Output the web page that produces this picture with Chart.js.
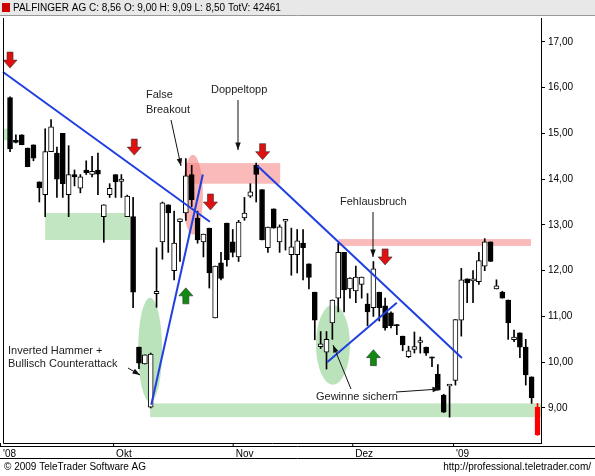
<!DOCTYPE html>
<html>
<head>
<script src="https://cdn.jsdelivr.net/npm/chart.js"></script>
<style>body{margin:0;background:#fff}</style>
</head>
<body>
<canvas id="c" width="595" height="476"></canvas>
<script>
// daily candles, Sep 2008 - Jan 2009
var opens  = [15.78,14.85,14.97,14.68,14.75,13.94,13.66,14.6,14.57,15.0,13.66,14.1,13.8,14.2,14.1,14.2,13.18,13.66,14.1,13.95,13.18,13.18,10.33,9.96,9.02,11.5,12.63,13.44,12.0,13.07,13.26,14.1,13.15,12.63,12.93,10.97,12.17,13.04,12.63,12.3,13.15,13.63,14.3,13.77,12.5,13.35,12.63,
              13.1,12.35,12.35,12.6,12.15,11.53,10.36,10.22,10.86,11.4,12.4,11.6,11.56,11.7,11.27,11.19,11.53,11.23,11.08,10.82,10.57,10.12,10.3,10.45,10.33,10.11,9.74,9.28,9.5,9.6,10.92,11.82,11.8,11.76,12.1,12.63,11.6,11.53,11.36,10.49,10.64,10.33,9.68,9.02];
var closes = [14.66,14.8,14.75,14.27,14.46,13.81,14.6,15.14,14.0,13.9,14.1,14.05,14.05,14.14,14.17,14.11,13.44,13.8,13.94,14.0,13.63,11.53,9.98,10.16,10.18,11.55,13.48,13.26,12.6,13.13,14.07,13.55,12.67,12.8,11.95,12.1,11.83,12.24,12.4,13.06,13.26,13.72,14.1,12.67,12.95,12.93,12.96,
              13.1,12.52,12.65,12.5,11.85,10.92,10.38,10.5,11.36,12.4,11.58,11.84,11.86,11.86,11.1,12.04,11.19,10.75,10.8,10.8,10.38,10.25,10.32,10.45,10.2,10.1,9.39,8.91,9.5,10.93,11.8,11.73,11.8,12.22,12.63,12.2,11.67,11.4,10.86,10.55,10.33,9.72,9.22,8.41];
var highs  = [15.8,14.97,14.97,14.68,14.75,13.94,15.1,15.3,14.7,15.0,14.73,14.2,14.1,14.4,14.5,14.57,13.44,13.9,14.1,14.1,13.65,13.6,10.33,10.16,10.2,12.5,13.5,13.44,13.3,13.13,14.45,14.3,13.3,12.8,12.93,12.1,12.4,13.04,12.9,13.1,13.6,13.9,14.35,13.77,12.95,13.35,13.0,
              13.1,12.93,12.9,12.9,12.15,11.53,10.67,10.67,11.36,12.6,12.4,11.85,12.1,11.86,11.5,12.2,11.53,11.4,11.1,10.83,10.57,10.35,10.66,10.55,10.33,10.11,9.95,9.3,9.5,10.93,12.05,11.82,12.0,12.4,12.7,12.63,11.8,11.55,11.36,10.7,10.64,10.5,9.68,9.1];
var lows   = [14.6,14.79,14.75,14.27,14.4,13.5,13.18,14.6,13.6,13.6,13.18,13.85,13.7,14.1,14.05,13.66,12.62,13.6,13.6,13.6,13.18,11.19,9.86,9.96,9.0,11.2,12.25,12.4,11.8,12.2,13.1,13.4,12.6,12.3,11.62,10.97,11.8,12.1,12.3,12.2,13.1,13.6,13.5,12.67,12.4,12.93,12.4,
              12.45,11.9,11.95,11.8,11.6,10.49,10.3,9.85,10.5,11.1,11.1,11.4,11.3,11.4,10.8,11.0,10.9,10.7,10.75,10.6,10.25,10.1,10.2,10.2,10.15,9.9,9.39,8.9,8.8,9.5,10.57,11.3,11.3,11.7,12.0,12.2,11.6,11.4,10.5,10.45,10.1,9.5,9.1,8.4];
var monthLabels = ["'08","Okt","Nov","Dez","'09"];
var monthIdx = [-1.2,18.1,38.5,58.9,76.1];
var yTicks = [9,10,11,12,13,14,15,16,17];

var n = opens.length;
var wicks = [], bodies = [], bodyColors = [], bodyBorders = [];
for (var i = 0; i < n; i++) {
  wicks.push({x: i, y: [lows[i], highs[i]]});
  var b = [opens[i], closes[i]];
  if (Math.abs(b[0] - b[1]) < 0.03) b = [b[0] - 0.02, b[1] + 0.02];
  bodies.push({x: i, y: b});
  var last = i === n - 1;
  bodyColors.push(last ? '#ff0000' : (closes[i] >= opens[i] ? '#ffffff' : '#000000'));
  bodyBorders.push(last ? '#ff0000' : '#000000');
}

// chart annotations (data coordinates: index, price)
var zones = [
  [-1.2, 0.4, 14.85, 15.1, 'rgba(120,200,120,0.45)'],
  [6, 20.5, 12.67, 13.26, 'rgba(120,200,120,0.45)'],
  [23.9, 90.6, 8.8, 9.1, 'rgba(120,200,120,0.45)'],
  [30, 46.1, 13.9, 14.35, 'rgba(245,130,130,0.55)'],
  [56, 88.9, 12.54, 12.69, 'rgba(245,130,130,0.55)']
];
var ellipses = [
  [23.9, 10.27, 12, 52, 'rgba(120,200,120,0.5)'],
  [31.2, 13.66, 10, 40, 'rgba(245,130,130,0.6)'],
  [55.1, 10.38, 17, 40, 'rgba(120,200,120,0.5)']
];
var trendLines = [
  [-1.2, 16.34, 34.1, 13.07],
  [24.1, 9.07, 32.9, 14.1],
  [42.2, 14.29, 77.1, 10.09],
  [54.1, 10.0, 66.0, 11.3]
];
var redArrows = [[0, 16.6], [21.2, 14.7], [34.2, 13.5], [43.1, 14.6], [64, 12.3]];
var greenArrows = [[30, 11.45], [62, 10.1]];

function arrow(ctx, x, y, up, color) {
  ctx.save();
  ctx.fillStyle = color; ctx.strokeStyle = '#333'; ctx.lineWidth = 0.6;
  var d = up ? -1 : 1;
  ctx.beginPath();
  ctx.moveTo(x - 3, y - d * 8); ctx.lineTo(x + 3, y - d * 8); ctx.lineTo(x + 3, y);
  ctx.lineTo(x + 7, y); ctx.lineTo(x, y + d * 8); ctx.lineTo(x - 7, y); ctx.lineTo(x - 3, y);
  ctx.closePath(); ctx.fill(); ctx.stroke();
  ctx.restore();
}
function pointer(ctx, x1, y1, x2, y2) {
  ctx.save();
  ctx.strokeStyle = '#111'; ctx.fillStyle = '#111'; ctx.lineWidth = 1;
  ctx.beginPath(); ctx.moveTo(x1, y1); ctx.lineTo(x2, y2); ctx.stroke();
  var a = Math.atan2(y2 - y1, x2 - x1);
  ctx.beginPath(); ctx.moveTo(x2, y2);
  ctx.lineTo(x2 - 8 * Math.cos(a - 0.35), y2 - 8 * Math.sin(a - 0.35));
  ctx.lineTo(x2 - 8 * Math.cos(a + 0.35), y2 - 8 * Math.sin(a + 0.35));
  ctx.closePath(); ctx.fill();
  ctx.restore();
}

var deco = {
  id: 'deco',
  beforeDatasetsDraw: function (chart) {
    var ctx = chart.ctx, xs = chart.scales.x, ys = chart.scales.y, a = chart.chartArea;
    ctx.save();
    ctx.beginPath(); ctx.rect(a.left, a.top, a.right - a.left, a.bottom - a.top); ctx.clip();
    zones.forEach(function (z) {
      var x1 = xs.getPixelForValue(z[0]), x2 = xs.getPixelForValue(z[1]);
      var y1 = ys.getPixelForValue(z[3]), y2 = ys.getPixelForValue(z[2]);
      ctx.fillStyle = z[4]; ctx.fillRect(x1, y1, x2 - x1, y2 - y1);
    });
    ellipses.forEach(function (e) {
      ctx.fillStyle = e[4]; ctx.beginPath();
      ctx.ellipse(xs.getPixelForValue(e[0]), ys.getPixelForValue(e[1]), e[2], e[3], 0, 0, Math.PI * 2);
      ctx.fill();
    });
    ctx.restore();
  },
  afterDatasetsDraw: function (chart) {
    var ctx = chart.ctx, xs = chart.scales.x, ys = chart.scales.y, a = chart.chartArea;
    ctx.save();
    ctx.strokeStyle = '#1f3fe0'; ctx.lineWidth = 2;
    trendLines.forEach(function (l) {
      ctx.beginPath();
      ctx.moveTo(xs.getPixelForValue(l[0]), ys.getPixelForValue(l[1]));
      ctx.lineTo(xs.getPixelForValue(l[2]), ys.getPixelForValue(l[3]));
      ctx.stroke();
    });
    redArrows.forEach(function (p) { arrow(ctx, xs.getPixelForValue(p[0]), ys.getPixelForValue(p[1]), false, '#e01010'); });
    greenArrows.forEach(function (p) { arrow(ctx, xs.getPixelForValue(p[0]), ys.getPixelForValue(p[1]), true, '#108a10'); });

    ctx.fillStyle = '#222'; ctx.font = '11px "Liberation Sans", Arial, sans-serif';
    ctx.textBaseline = 'middle';
    ctx.fillText('False', 146, 95); ctx.fillText('Breakout', 146, 110);
    ctx.fillText('Doppeltopp', 211, 90);
    ctx.fillText('Fehlausbruch', 340, 202);
    ctx.fillText('Inverted Hammer +', 8, 351);
    ctx.fillText('Bullisch Counterattack', 8, 364);
    ctx.fillText('Gewinne sichern', 316, 397);
    pointer(ctx, 171, 120, 181, 166);
    pointer(ctx, 238, 100, 238, 150);
    pointer(ctx, 373, 212, 373, 257);
    pointer(ctx, 128, 368, 140, 375);
    pointer(ctx, 351, 389, 333, 345);
    pointer(ctx, 396, 392, 440, 389);

    // plot frame
    ctx.strokeStyle = '#000'; ctx.lineWidth = 1;
    ctx.beginPath(); ctx.moveTo(a.left + 0.5, a.top); ctx.lineTo(a.left + 0.5, a.bottom + 0.5);
    ctx.lineTo(a.right + 0.5, a.bottom + 0.5); ctx.lineTo(a.right + 0.5, a.top); ctx.stroke();
    ctx.beginPath(); ctx.moveTo(0, a.bottom + 3.5); ctx.lineTo(595, a.bottom + 3.5); ctx.stroke();
    // month labels
    ctx.fillStyle = '#000'; ctx.font = '10px "Liberation Sans", Arial, sans-serif';
    monthLabels.forEach(function (m, k) {
      var px = xs.getPixelForValue(monthIdx[k]);
      ctx.fillText(m, px, a.bottom + 11);
      ctx.beginPath(); ctx.moveTo(px - 2.5, a.bottom); ctx.lineTo(px - 2.5, a.bottom + 4); ctx.stroke();
    });
    // header / footer
    ctx.fillStyle = '#e8e8e8'; ctx.fillRect(0, 0, 595, 15);
    ctx.strokeStyle = '#999'; ctx.beginPath(); ctx.moveTo(0, 15.5); ctx.lineTo(595, 15.5); ctx.stroke();
    ctx.fillStyle = '#c00'; ctx.fillRect(2, 3, 8, 9);
    ctx.fillStyle = '#000'; ctx.font = '10px "Liberation Sans", Arial, sans-serif';
    ctx.fillText('PALFINGER AG C: 8,56 O: 9,00 H: 9,09 L: 8,50 TotV: 42461', 13, 8);
    ctx.strokeStyle = '#000'; ctx.beginPath(); ctx.moveTo(0, 458.5); ctx.lineTo(595, 458.5); ctx.stroke();
    ctx.fillText('\u00a9 2009 TeleTrader Software AG', 4, 467);
    ctx.textAlign = 'right';
    ctx.fillText('http://professional.teletrader.com/', 591, 467);
    ctx.restore();
  }
};

new Chart(document.getElementById('c'), {
  type: 'bar',
  data: {
    datasets: [
      {data: wicks, backgroundColor: bodyBorders, barThickness: 1, grouped: false, order: 2},
      {data: bodies, backgroundColor: bodyColors, borderColor: bodyBorders, borderWidth: 1,
       borderSkipped: false, barThickness: 5, grouped: false, order: 1}
    ]
  },
  options: {
    responsive: false,
    animation: false,
    layout: {padding: {top: 18, bottom: 33, left: 3, right: 0}},
    plugins: {legend: {display: false}, tooltip: {enabled: false}},
    scales: {
      x: {type: 'linear', min: -1.2, max: 90.6, offset: false, display: false},
      y: {
        position: 'right', min: 8.235, max: 17.52,
        afterFit: function (s) { s.width = 54; },
        afterBuildTicks: function (s) { s.ticks = yTicks.map(function (v) { return {value: v}; }); },
        grid: {drawOnChartArea: false, color: '#000', tickLength: 4},
        border: {color: '#000'},
        ticks: {color: '#000', font: {size: 10, family: 'Liberation Sans'},
          callback: function (v) { return v.toFixed(2).replace('.', ','); }}
      }
    }
  },
  plugins: [deco]
});
</script>
</body>
</html>
